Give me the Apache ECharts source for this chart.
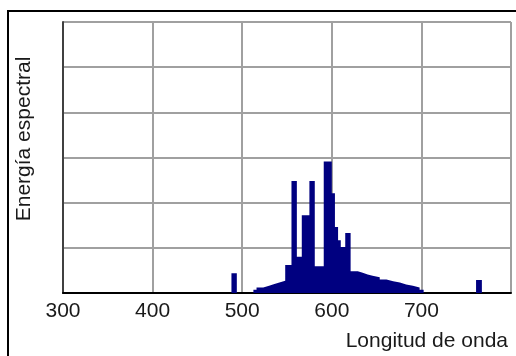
<!DOCTYPE html>
<html>
<head>
<meta charset="utf-8">
<script src="https://cdn.jsdelivr.net/npm/echarts@6/dist/echarts.min.js"></script>
<style>
  html, body { margin: 0; padding: 0; background: #fff; }
  #chart { width: 516px; height: 356px; }
</style>
</head>
<body>
<div id="chart"></div>
<script>
// wavelength bins (nm) and relative spectral energy
const binStart = [488, 512.5, 516, 523.5, 530, 536, 541.5, 548, 555, 561, 566.5, 575, 581, 591, 600, 603.5, 607, 610, 615,
  621, 629, 634.5, 640, 645.5, 653.5, 661, 668.5, 676, 683, 690.5, 698, 761];
const binEnd = [494, 516, 523.5, 530, 536, 541.5, 548, 555, 561, 566.5, 575, 581, 591, 600, 603.5, 607, 610, 615, 621,
  629, 634.5, 640, 645.5, 653.5, 661, 668.5, 676, 683, 690.5, 698, 702.5, 767.5];
const energy = [0.44, 0.07, 0.12, 0.16, 0.20, 0.23, 0.27, 0.62, 2.48, 0.80, 1.72, 2.48, 0.59, 2.91, 2.21, 1.46, 1.17, 1.02, 1.33,
  0.48, 0.45, 0.41, 0.38, 0.35, 0.30, 0.26, 0.23, 0.19, 0.16, 0.12, 0.07, 0.29];

const xTicks = [300, 400, 500, 600, 700];
const xName = "Longitud de onda";
const yName = "Energía espectral";

const font = "'Liberation Sans', Arial, sans-serif";
const chart = echarts.init(document.getElementById("chart"));

// turn the bins into a stepped outline: each bin starts at its value,
// and drops back to zero wherever the next bin does not follow on directly
const steps = [];
binStart.forEach((s, i) => {
  steps.push([s, energy[i]]);
  if (i === binStart.length - 1 || binStart[i + 1] !== binEnd[i]) {
    steps.push([binEnd[i], 0]);
  }
});

chart.setOption({
  animation: false,
  backgroundColor: "#fff",
  grid: { left: 63, right: 5, top: 22, bottom: 63 },
  xAxis: {
    type: "value",
    min: 300,
    max: 800,
    interval: 100,
    axisLine: { lineStyle: { color: "#000", width: 2 } },
    axisTick: { show: false },
    axisLabel: {
      margin: 8,
      fontFamily: font,
      fontSize: 21,
      color: "#1a1a1a",
      formatter: (v) => (xTicks.includes(v) ? String(v) : ""),
    },
    splitLine: { show: true, lineStyle: { color: "#a0a0a0", width: 2 } },
  },
  yAxis: {
    type: "value",
    min: 0,
    max: 6,
    interval: 1,
    axisLine: { show: true, lineStyle: { color: "#404040", width: 2 } },
    axisTick: { show: false },
    axisLabel: { show: false },
    splitLine: { show: true, lineStyle: { color: "#a0a0a0", width: 2 } },
  },
  graphic: [
    {
      type: "rect",
      shape: { x: 8, y: 11, width: 600, height: 400 },
      style: { fill: "none", stroke: "#000", lineWidth: 2 },
      silent: true,
    },
    {
      type: "text",
      x: 24,
      y: 139,
      rotation: Math.PI / 2,
      style: {
        text: yName,
        font: "21px " + font,
        fill: "#1a1a1a",
        textAlign: "center",
        textVerticalAlign: "middle",
      },
    },
    {
      type: "text",
      right: 8,
      top: 331,
      style: { text: xName, font: "21px " + font, fill: "#1a1a1a" },
    },
  ],
  series: [
    {
      type: "line",
      step: "end",
      data: steps,
      showSymbol: false,
      lineStyle: { width: 0, color: "#000080" },
      areaStyle: { color: "#000080", opacity: 1 },
    },
  ],
});
</script>
</body>
</html>
